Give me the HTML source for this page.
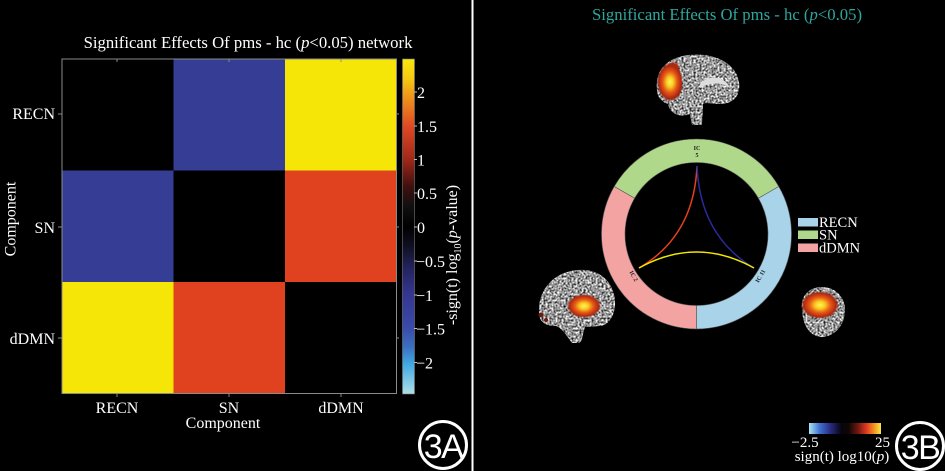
<!DOCTYPE html>
<html><head><meta charset="utf-8"><style>
html,body{margin:0;padding:0;background:#000;}
svg{display:block;}
text{font-family:"Liberation Serif",serif;fill:#fff;}
</style></head><body>
<svg width="945" height="471" viewBox="0 0 945 471" xmlns="http://www.w3.org/2000/svg">
<defs>
<linearGradient id="cb" x1="0" y1="0" x2="0" y2="1">
<stop offset="0" stop-color="#f8e80a"/>
<stop offset="0.06" stop-color="#f5c812"/>
<stop offset="0.1" stop-color="#f0a018"/>
<stop offset="0.2" stop-color="#e04a25"/>
<stop offset="0.3" stop-color="#a02818"/>
<stop offset="0.38" stop-color="#401010"/>
<stop offset="0.44" stop-color="#101010"/>
<stop offset="0.5" stop-color="#000"/>
<stop offset="0.56" stop-color="#101024"/>
<stop offset="0.62" stop-color="#22225a"/>
<stop offset="0.7" stop-color="#343690"/>
<stop offset="0.8" stop-color="#3a4aa8"/>
<stop offset="0.86" stop-color="#3b70c0"/>
<stop offset="0.91" stop-color="#40a8e2"/>
<stop offset="1" stop-color="#b0e0e8"/>
</linearGradient>
<linearGradient id="cb2" x1="0" y1="0" x2="1" y2="0">
<stop offset="0" stop-color="#a8e4f0"/>
<stop offset="0.15" stop-color="#4070d0"/>
<stop offset="0.3" stop-color="#2a2a80"/>
<stop offset="0.45" stop-color="#050510"/>
<stop offset="0.55" stop-color="#100505"/>
<stop offset="0.68" stop-color="#701810"/>
<stop offset="0.8" stop-color="#e03a20"/>
<stop offset="0.9" stop-color="#f29020"/>
<stop offset="1" stop-color="#f8e848"/>
</linearGradient>
<radialGradient id="blob">
<stop offset="0" stop-color="#fff060"/>
<stop offset="0.25" stop-color="#f8d020"/>
<stop offset="0.55" stop-color="#e85a18"/>
<stop offset="0.85" stop-color="#b02810"/>
<stop offset="1" stop-color="#801808" stop-opacity="0"/>
</radialGradient>
<filter id="tex" x="0" y="0" width="1" height="1" color-interpolation-filters="sRGB">
<feTurbulence type="fractalNoise" baseFrequency="0.5" numOctaves="2" seed="4" result="n"/>
<feColorMatrix in="n" type="matrix" values="1.8 0 0 0 -0.3  1.8 0 0 0 -0.3  1.8 0 0 0 -0.3  0 0 0 0 1" result="g"/>
<feComposite in="g" in2="SourceGraphic" operator="in"/>
</filter>
</defs>
<rect x="0" y="0" width="945" height="471" fill="#000"/>

<!-- LEFT PANEL -->
<text x="248" y="48" font-size="16.7" text-anchor="middle">Significant Effects Of pms - hc (<tspan font-style="italic">p</tspan>&lt;0.05) network</text>

<rect x="62" y="59" width="111.5" height="111.5" fill="#000"/>
<rect x="173.5" y="59" width="111.5" height="111.5" fill="#353d94"/>
<rect x="285" y="59" width="111.5" height="111.5" fill="#f6e608"/>
<rect x="62" y="170.5" width="111.5" height="111.5" fill="#353d94"/>
<rect x="173.5" y="170.5" width="111.5" height="111.5" fill="#000"/>
<rect x="285" y="170.5" width="111.5" height="111.5" fill="#e0421f"/>
<rect x="62" y="282" width="111.5" height="111.5" fill="#f6e608"/>
<rect x="173.5" y="282" width="111.5" height="111.5" fill="#e0421f"/>
<rect x="285" y="282" width="111.5" height="111.5" fill="#000"/>
<rect x="62" y="59" width="334.5" height="334.5" fill="none" stroke="#8a8a8a" stroke-width="1"/>
<g stroke="#8a8a8a" stroke-width="1">
<line x1="58" y1="114" x2="62" y2="114"/><line x1="58" y1="227" x2="62" y2="227"/><line x1="58" y1="338" x2="62" y2="338"/>
<line x1="117" y1="394" x2="117" y2="397"/><line x1="229" y1="394" x2="229" y2="397"/><line x1="341" y1="394" x2="341" y2="397"/>
<line x1="117" y1="59" x2="117" y2="62"/><line x1="229" y1="59" x2="229" y2="62"/><line x1="341" y1="59" x2="341" y2="62"/>
<line x1="396" y1="114" x2="399" y2="114"/><line x1="396" y1="227" x2="399" y2="227"/><line x1="396" y1="338" x2="399" y2="338"/>
</g>
<text x="55" y="119" font-size="16" text-anchor="end">RECN</text>
<text x="55" y="233" font-size="16" text-anchor="end">SN</text>
<text x="55" y="344" font-size="16" text-anchor="end">dDMN</text>
<text x="117" y="413" font-size="16" text-anchor="middle">RECN</text>
<text x="229" y="413" font-size="16" text-anchor="middle">SN</text>
<text x="341" y="413" font-size="16" text-anchor="middle">dDMN</text>
<text x="223" y="428" font-size="16" text-anchor="middle">Component</text>
<text transform="translate(15.5,219) rotate(-90)" font-size="16" text-anchor="middle">Component</text>

<rect x="402.5" y="59" width="12" height="335" fill="url(#cb)" stroke="#777" stroke-width="0.6"/>
<g stroke="#bbb" stroke-width="1">
<line x1="414" y1="92" x2="417" y2="92"/><line x1="414" y1="126" x2="417" y2="126"/><line x1="414" y1="159.5" x2="417" y2="159.5"/>
<line x1="414" y1="193" x2="417" y2="193"/><line x1="414" y1="227" x2="417" y2="227"/><line x1="414" y1="261" x2="417" y2="261"/>
<line x1="414" y1="295" x2="417" y2="295"/><line x1="414" y1="328.5" x2="417" y2="328.5"/><line x1="414" y1="362.5" x2="417" y2="362.5"/>
</g>
<g font-size="16">
<text x="417" y="98">2</text>
<text x="417" y="132">1.5</text>
<text x="417" y="165.5">1</text>
<text x="417" y="199">0.5</text>
<text x="417" y="233">0</text>
<text x="416" y="267">−0.5</text>
<text x="416" y="301">−1</text>
<text x="416" y="334.5">−1.5</text>
<text x="416" y="368.5">−2</text>
</g>
<text transform="translate(457,255) rotate(-90)" font-size="16" text-anchor="middle">-sign(t) log<tspan font-size="10" dy="4">10</tspan><tspan dy="-4">(</tspan><tspan font-style="italic">p</tspan>-value)</text>

<circle cx="443" cy="445" r="23.5" fill="#000" stroke="#fff" stroke-width="3"/>
<text x="443" y="458" font-size="34" text-anchor="middle" style="font-family:'Liberation Sans',sans-serif" letter-spacing="-1.5">3A</text>

<rect x="471.5" y="0" width="2" height="471" fill="#fff"/>

<!-- RIGHT PANEL -->
<text x="727" y="20" font-size="16.7" text-anchor="middle" style="fill:#2ea79e">Significant Effects Of pms - hc (<tspan font-style="italic" style="fill:#2ea79e">p</tspan>&lt;0.05)</text>

<path d="M657,90 C655,72 665,58 688,55 C712,52 736,62 739,82 C741,96 733,104 720,104 C712,104 706,102 703,104 L702,125 L692,125 L690,114 C680,118 670,114 668,104 C662,102 657,97 657,90 Z" fill="#999" filter="url(#tex)"/>
<path d="M700,84 C708,74 725,76 730,88 C722,82 710,82 700,88 Z" fill="#ddd"/>
<path d="M658,88 C656,74 664,64 678,60 L684,98 C676,104 664,102 658,88 Z" fill="url(#blob)"/>
<ellipse cx="670" cy="82" rx="13" ry="19" fill="url(#blob)"/>

<path d="M540,318 C535,298 548,272 578,270 C602,268 616,285 615,305 C614,318 608,325 600,326 L585,327 C582,335 583,343 578,343 L572,343 C566,335 562,328 556,326 C548,326 542,324 540,318 Z" fill="#999" filter="url(#tex)"/>
<ellipse cx="584" cy="306" rx="17" ry="12" fill="url(#blob)"/>
<circle cx="541" cy="315" r="2.5" fill="#6a1a10"/>
<circle cx="546" cy="320" r="2" fill="#6a1a10"/>

<path d="M802,310 C800,295 810,287 822,287 C836,287 846,298 845,312 C844,325 836,335 824,337 C812,338 803,328 802,310 Z" fill="#999" filter="url(#tex)"/>
<ellipse cx="820" cy="305" rx="19" ry="14" fill="url(#blob)"/>

<g stroke="#555" stroke-width="0.6">
<path d="M614.23,186.5 A95,95 0 0 1 778.77,186.5 L758.42,198.25 A71.5,71.5 0 0 0 634.58,198.25 Z" fill="#b0d88a"/>
<path d="M778.77,186.5 A95,95 0 0 1 696.5,329 L696.5,305.5 A71.5,71.5 0 0 0 758.42,198.25 Z" fill="#a8d3e8"/>
<path d="M696.5,329 A95,95 0 0 1 614.23,186.5 L634.58,198.25 A71.5,71.5 0 0 0 696.5,305.5 Z" fill="#f4a3a3"/>
</g>
<g font-size="6" font-weight="bold" text-anchor="middle" style="font-family:'Liberation Serif',serif">
<text x="697" y="150" style="fill:#222">IC</text>
<text x="697" y="157" style="fill:#222">5</text>
<text transform="translate(632,277) rotate(60)" style="fill:#222">IC 2</text>
<text transform="translate(762,277) rotate(-60)" style="fill:#222">IC 11</text>
</g>
<g fill="none" stroke-width="1.5">
<path d="M697,166 Q694,236 639,268" stroke="#e8401c"/>
<path d="M697,166 Q700,236 754,268" stroke="#2a2aa0"/>
<path d="M639,268 Q696.5,236 754,268" stroke="#f5e800"/>
</g>

<rect x="798" y="218" width="20" height="8.5" fill="#a8d3e8"/>
<rect x="798" y="230.5" width="20" height="8.5" fill="#b0d88a"/>
<rect x="798" y="243.5" width="20" height="8.5" fill="#f4a3a3"/>
<text x="819" y="227" font-size="14.5">RECN</text>
<text x="819" y="239.5" font-size="14.5">SN</text>
<text x="819" y="252.5" font-size="14.5">dDMN</text>

<rect x="809" y="423" width="72" height="11" fill="url(#cb2)"/>
<text x="805" y="447" font-size="15" text-anchor="middle">−2.5</text>
<text x="890" y="447" font-size="15" text-anchor="end">25</text>
<text x="842" y="461" font-size="15" text-anchor="middle">sign(t) log10(<tspan font-style="italic">p</tspan>)</text>

<circle cx="920" cy="446" r="23.5" fill="#000" stroke="#fff" stroke-width="3"/>
<text x="920" y="459" font-size="34" text-anchor="middle" style="font-family:'Liberation Sans',sans-serif" letter-spacing="-1.5">3B</text>
</svg>
</body></html>
